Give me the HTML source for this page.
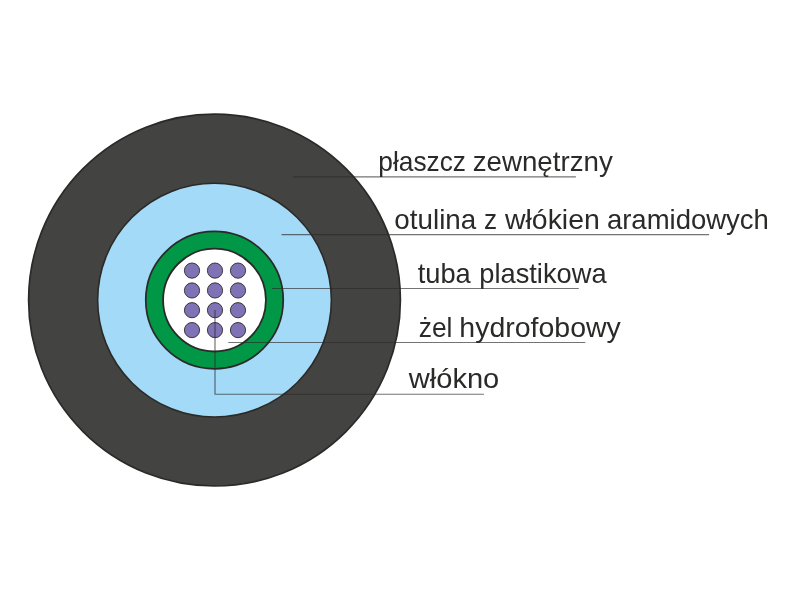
<!DOCTYPE html>
<html lang="pl">
<head>
<meta charset="utf-8">
<title>Budowa kabla światłowodowego</title>
<style>
  html, body { margin: 0; padding: 0; background: #ffffff; }
  body { width: 800px; height: 600px; overflow: hidden; }
  svg { display: block; will-change: transform; }
  text { font-family: "Liberation Sans", sans-serif; font-size: 27.2px; fill: #2b2a29; }
</style>
</head>
<body>
<svg width="800" height="600" viewBox="0 0 800 600">
  <rect width="800" height="600" fill="#ffffff"/>
  <circle cx="214.5" cy="300.1" r="185.9" fill="#434341" stroke="#2b2a29" stroke-width="1.7"/>
  <circle cx="214.5" cy="300.1" r="116.85" fill="#a3daf8" stroke="#2b2a29" stroke-width="1.6"/>
  <circle cx="214.5" cy="300.1" r="68.72" fill="#009846" stroke="#2b2a29" stroke-width="1.75"/>
  <circle cx="214.5" cy="300.1" r="51.42" fill="#ffffff" stroke="#2b2a29" stroke-width="1.8"/>
  <g fill="#8073b5" stroke="#2b2a29" stroke-width="0.9">
    <circle cx="192.0" cy="270.6" r="7.6"/>
    <circle cx="215.0" cy="270.6" r="7.6"/>
    <circle cx="238.0" cy="270.6" r="7.6"/>
    <circle cx="192.0" cy="290.45" r="7.6"/>
    <circle cx="215.0" cy="290.45" r="7.6"/>
    <circle cx="238.0" cy="290.45" r="7.6"/>
    <circle cx="192.0" cy="310.2" r="7.6"/>
    <circle cx="215.0" cy="310.2" r="7.6"/>
    <circle cx="238.0" cy="310.2" r="7.6"/>
    <circle cx="192.0" cy="330.1" r="7.6"/>
    <circle cx="215.0" cy="330.1" r="7.6"/>
    <circle cx="238.0" cy="330.1" r="7.6"/>
  </g>
  <g fill="none" stroke="#2b2a29" stroke-opacity="0.65" stroke-width="1.2">
    <path d="M292.8 176.9H575.9"/>
    <path d="M281.5 234.7H709.1"/>
    <path d="M272 288.5H578.8"/>
    <path d="M228.3 342.5H585.4"/>
    <path d="M215 310V394.25H483.9"/>
  </g>
  <g>
    <text y="171"><tspan x="378.35" textLength="87.62" lengthAdjust="spacingAndGlyphs">płaszcz</tspan> <tspan x="472.71" textLength="140.06" lengthAdjust="spacingAndGlyphs">zewnętrzny</tspan></text>
    <text y="229"><tspan x="394.38" textLength="81.91" lengthAdjust="spacingAndGlyphs">otulina</tspan> <tspan x="484.09" textLength="13.11" lengthAdjust="spacingAndGlyphs">z</tspan> <tspan x="505.01" textLength="94.80" lengthAdjust="spacingAndGlyphs">włókien</tspan> <tspan x="606.93" textLength="161.98" lengthAdjust="spacingAndGlyphs">aramidowych</tspan></text>
    <text y="283"><tspan x="417.65" textLength="53.07" lengthAdjust="spacingAndGlyphs">tuba</tspan> <tspan x="479.27" textLength="127.33" lengthAdjust="spacingAndGlyphs">plastikowa</tspan></text>
    <text y="337"><tspan x="418.73" textLength="33.70" lengthAdjust="spacingAndGlyphs">żel</tspan> <tspan x="459.34" textLength="161.46" lengthAdjust="spacingAndGlyphs">hydrofobowy</tspan></text>
    <text y="388"><tspan x="408.76" textLength="90.55" lengthAdjust="spacingAndGlyphs">włókno</tspan></text>
  </g>
</svg>
</body>
</html>
